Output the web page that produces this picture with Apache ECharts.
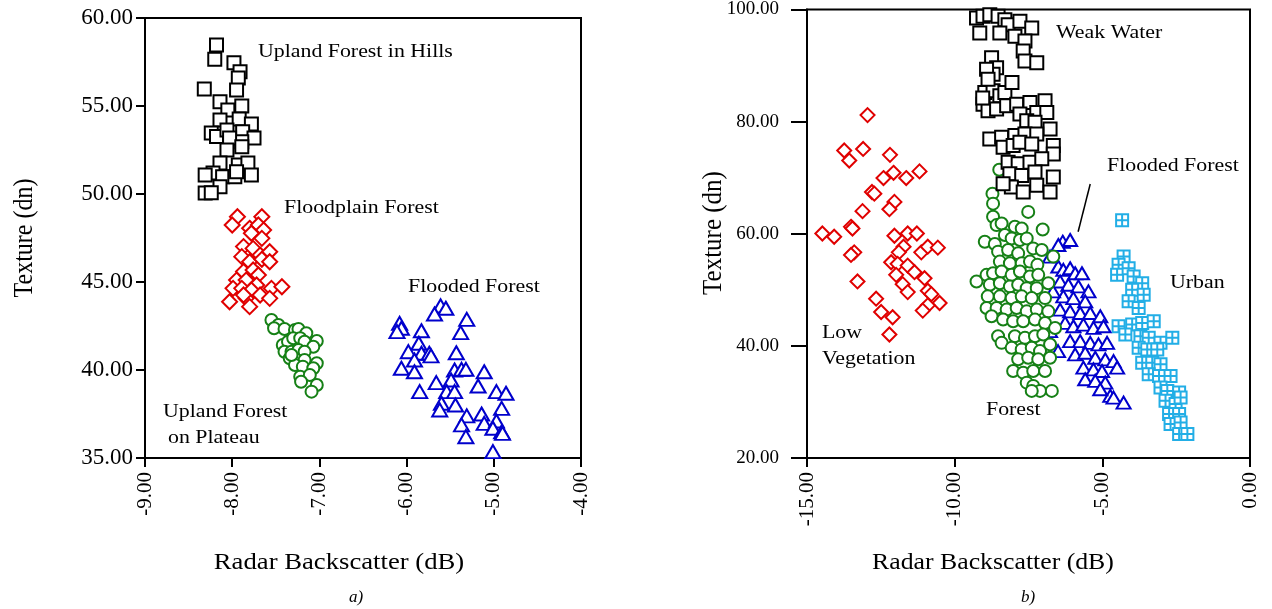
<!DOCTYPE html>
<html><head><meta charset="utf-8">
<script src="https://cdn.jsdelivr.net/npm/echarts@6/dist/echarts.min.js"></script>
<style>html,body{margin:0;padding:0;background:#fff}#c{width:1272px;height:609px}</style>
</head><body><div id="c"></div>
<script>
// ---------- Panel a) ----------
const aXTicks = [-9, -8, -7, -6, -5, -4];
const aYTicks = [35, 40, 45, 50, 55, 60];
const aUplandHills = [[-8.18,58.47],[-8.20,57.65],[-7.98,57.46],[-7.91,56.95],[-7.93,56.59],[-8.32,55.97],[-7.95,55.91],[-8.14,55.24],[-7.89,55.0],[-8.05,54.77],[-8.14,54.20],[-7.92,54.26],[-7.78,53.98],[-8.24,53.47],[-8.18,53.26],[-8.06,53.64],[-7.88,53.54],[-7.75,53.18],[-7.89,52.97],[-8.03,53.18],[-7.89,52.69],[-8.06,52.5],[-8.14,51.76],[-8.22,51.19],[-7.93,51.65],[-7.82,51.76],[-8.31,51.08],[-8.11,50.98],[-7.97,50.98],[-7.78,51.08],[-8.14,50.41],[-8.31,50.06],[-8.24,50.07],[-7.95,51.27]];
const aFloodplain = [[-7.94,48.71],[-7.66,48.71],[-8.00,48.24],[-7.80,48.05],[-7.70,48.24],[-7.64,47.95],[-7.78,47.77],[-7.66,47.48],[-7.87,47.01],[-7.76,46.91],[-7.89,46.44],[-7.68,46.53],[-7.57,46.72],[-7.80,46.15],[-7.66,46.29],[-7.57,46.15],[-7.87,45.59],[-7.76,45.68],[-7.70,45.40],[-7.95,45.11],[-7.84,45.11],[-7.72,44.83],[-7.99,44.64],[-7.89,44.64],[-7.78,44.55],[-7.55,44.64],[-7.43,44.73],[-7.68,44.26],[-7.57,44.07],[-8.03,43.88],[-7.84,44.07],[-7.80,43.60],[-7.87,44.26]];
const aUplandPlateau = [[-7.55,42.84],[-7.47,42.56],[-7.52,42.37],[-7.40,42.33],[-7.28,42.27],[-7.24,42.33],[-7.15,42.09],[-7.42,41.42],[-7.36,41.61],[-7.30,41.80],[-7.22,41.80],[-7.17,41.61],[-7.03,41.65],[-7.07,41.32],[-7.40,41.04],[-7.32,41.04],[-7.24,41.14],[-7.17,41.04],[-7.34,40.67],[-7.26,40.57],[-7.17,40.57],[-7.03,40.38],[-7.28,40.28],[-7.19,40.19],[-7.07,40.10],[-7.22,39.62],[-7.11,39.72],[-7.21,39.33],[-7.03,39.15],[-7.09,38.77],[-7.32,40.85]];
const aFlooded = [[-5.61,43.64],[-5.55,43.51],[-5.68,43.18],[-5.31,42.88],[-6.08,42.65],[-6.06,42.37],[-6.11,42.18],[-5.83,42.23],[-5.38,42.12],[-5.86,41.52],[-5.98,41.04],[-5.83,40.95],[-5.74,40.95],[-5.72,40.80],[-5.43,40.98],[-5.91,40.57],[-6.06,40.10],[-5.91,39.90],[-5.45,40.0],[-5.37,40.04],[-5.32,40.04],[-5.11,39.90],[-5.66,39.28],[-5.49,39.43],[-5.18,39.09],[-5.85,38.77],[-5.54,38.77],[-5.45,38.77],[-4.97,38.77],[-4.86,38.68],[-5.60,38.11],[-5.44,38.01],[-4.91,37.82],[-5.62,37.73],[-5.31,37.39],[-5.14,37.50],[-5.37,36.88],[-5.11,36.97],[-4.97,37.10],[-5.32,36.21],[-5.01,36.69],[-4.91,36.49],[-4.90,36.40],[-5.01,35.36]];

// ---------- Panel b) ----------
const bXTicks = [-15, -10, -5, 0];
const bYTicks = [20, 40, 60, 80, 100];
const bWeakWater = [[-9.26,98.49],[-9.04,98.79],[-8.81,99.08],[-8.53,98.79],[-8.30,98.19],[-8.19,97.30],[-7.79,97.91],[-7.39,96.72],[-9.15,95.83],[-8.47,95.83],[-7.96,95.25],[-7.62,94.36],[-8.75,91.40],[-8.58,89.62],[-7.68,92.59],[-7.62,90.81],[-7.22,90.51],[-8.70,88.43],[-8.98,85.19],[-8.70,85.49],[-8.47,84.60],[-8.30,85.19],[-9.04,83.11],[-8.87,81.94],[-8.58,82.23],[-8.24,82.83],[-7.90,83.11],[-7.45,83.41],[-6.94,83.72],[-7.79,81.34],[-7.22,81.64],[-6.88,81.64],[-7.56,80.17],[-7.28,79.87],[-6.77,78.68],[-8.81,76.90],[-8.41,77.21],[-7.96,77.51],[-7.62,77.79],[-7.22,77.79],[-8.36,75.43],[-8.02,75.73],[-7.79,76.32],[-7.39,76.02],[-6.66,75.73],[-6.66,74.24],[-8.19,72.77],[-7.85,72.47],[-7.45,72.77],[-7.05,73.36],[-8.13,70.70],[-7.73,70.41],[-7.28,71.0],[-6.66,70.11],[-8.08,68.34],[-7.68,67.45],[-7.22,68.64],[-6.77,67.45],[-8.36,68.92],[-8.92,89.32],[-8.87,87.55],[-8.06,86.96],[-9.05,84.2]];
const bLowVeg = [[-12.95,81.16],[-13.74,74.85],[-13.10,75.13],[-13.57,73.07],[-12.19,74.07],[-12.41,69.93],[-12.07,70.87],[-11.64,69.93],[-11.19,71.12],[-12.80,67.45],[-12.72,67.15],[-12.04,65.68],[-12.21,64.38],[-13.12,64.03],[-13.51,61.24],[-13.46,60.94],[-14.48,60.05],[-14.08,59.47],[-12.04,59.64],[-11.59,60.05],[-11.28,60.05],[-11.73,57.69],[-11.89,56.68],[-11.13,56.68],[-10.91,57.69],[-10.57,57.52],[-13.40,56.68],[-13.51,56.22],[-12.15,54.91],[-11.93,54.63],[-11.59,54.32],[-11.36,53.14],[-11.98,52.67],[-11.02,52.07],[-11.76,51.01],[-11.59,49.59],[-13.29,51.49],[-10.91,49.84],[-10.79,49.23],[-10.51,47.64],[-10.91,47.23],[-11.08,46.29],[-12.66,48.42],[-12.49,46.04],[-12.10,45.10],[-12.21,42.03]];
const bForest = [[-8.49,71.41],[-8.72,67.15],[-8.70,65.37],[-7.51,63.90],[-8.70,63.02],[-8.58,61.54],[-8.41,61.83],[-7.96,61.24],[-7.73,60.94],[-7.02,60.76],[-8.98,58.58],[-8.64,58.17],[-8.30,59.77],[-8.07,59.17],[-7.79,58.88],[-7.56,59.17],[-7.34,57.39],[-7.05,57.11],[-6.66,55.92],[-8.53,56.81],[-8.19,57.11],[-7.85,56.50],[-8.47,55.03],[-8.13,54.73],[-7.73,54.73],[-7.45,55.03],[-7.20,54.45],[-9.26,51.49],[-8.92,52.67],[-8.70,52.96],[-8.41,53.26],[-8.07,52.67],[-7.79,53.26],[-7.45,52.37],[-7.17,52.67],[-8.81,50.90],[-8.47,51.18],[-8.13,50.60],[-7.85,50.90],[-7.56,50.30],[-7.22,50.30],[-6.83,51.18],[-8.88,48.83],[-8.47,48.83],[-8.07,48.52],[-7.73,48.83],[-7.39,48.52],[-6.94,48.52],[-8.92,46.75],[-8.58,46.75],[-8.24,46.47],[-7.90,46.75],[-7.56,46.16],[-7.22,46.47],[-6.83,46.16],[-8.75,45.28],[-8.36,44.69],[-8.02,44.39],[-7.68,44.39],[-7.28,44.69],[-6.94,44.09],[-6.60,43.20],[-8.53,41.73],[-8.41,40.54],[-7.96,41.73],[-7.62,41.43],[-7.28,41.73],[-7.00,42.03],[-6.77,40.26],[-8.07,39.65],[-7.73,39.37],[-7.39,39.65],[-7.11,39.07],[-7.85,37.60],[-7.51,37.88],[-7.17,37.60],[-6.77,37.88],[-8.02,35.52],[-7.68,35.22],[-7.34,35.52],[-6.94,35.52],[-7.56,33.44],[-7.34,32.86],[-7.11,31.97],[-6.71,31.97],[-7.39,31.97]];
const bFlooded = [[-6.34,58.58],[-6.09,58.88],[-6.49,58.00],[-6.49,54.15],[-6.32,53.56],[-6.09,53.84],[-5.92,52.96],[-5.69,52.96],[-6.43,51.49],[-6.15,50.90],[-5.81,50.60],[-5.47,49.71],[-6.32,48.82],[-5.98,48.52],[-5.58,47.94],[-6.43,46.47],[-6.09,46.16],[-5.75,45.86],[-5.41,45.86],[-5.07,45.28],[-6.26,44.09],[-5.98,43.50],[-5.64,43.80],[-5.30,43.20],[-4.96,43.50],[-6.09,40.84],[-5.75,40.84],[-5.41,40.54],[-5.13,40.26],[-4.84,40.54],[-5.92,38.48],[-5.58,38.77],[-5.24,37.88],[-4.90,37.60],[-4.62,37.29],[-5.64,36.11],[-5.30,35.82],[-5.01,35.52],[-4.50,36.11],[-5.58,34.05],[-5.24,33.75],[-4.90,33.45],[-4.73,31.09],[-4.62,30.78],[-4.28,29.89],[-5.07,32.27],[-6.77,55.92],[-6.67,49.71],[-6.77,42.62],[-6.50,39.07]];
const bUrban = [[-4.33,62.43],[-4.28,55.92],[-4.45,54.45],[-4.50,52.67],[-4.11,53.84],[-3.94,52.37],[-3.65,51.18],[-3.99,50.01],[-3.60,49.13],[-4.11,47.94],[-3.77,46.75],[-4.45,43.50],[-3.99,43.80],[-3.65,44.09],[-3.26,44.39],[-4.22,42.03],[-3.71,41.73],[-3.43,41.43],[-3.03,40.54],[-2.63,41.43],[-3.77,39.65],[-3.48,39.37],[-3.14,39.37],[-3.65,36.99],[-3.31,36.99],[-3.03,36.71],[-3.43,34.94],[-3.08,34.63],[-2.69,34.63],[-3.03,32.56],[-2.80,31.97],[-2.40,31.67],[-2.86,30.20],[-2.52,29.61],[-2.35,30.78],[-2.74,27.84],[-2.40,27.84],[-2.69,26.07],[-2.35,26.35],[-2.40,24.29],[-2.12,24.29]];
const bPointerLine = [[-5.41,68.87],[-5.82,60.36]];

const FONT = 'Liberation Serif';
const C = {black:'#000000', red:'#e00000', green:'#168016', blue:'#0000cc', cyan:'#22aee6'};

function xAx(gi, min, max, interval, size) {
  return {gridIndex: gi, type:'value', min, max, interval,
    axisLine:{onZero:false, lineStyle:{color:'#000', width:2}},
    axisTick:{length:9, lineStyle:{color:'#000', width:2}},
    axisLabel:{rotate:90, margin:14, color:'#000', fontFamily:FONT, fontSize:size, formatter:v=>v.toFixed(2)},
    splitLine:{show:false}};
}
function yAx(gi, min, max, interval, size, margin, tick) {
  return {gridIndex: gi, type:'value', min, max, interval,
    axisLine:{onZero:false, lineStyle:{color:'#000', width:2}},
    axisTick:{length:tick, lineStyle:{color:'#000', width:2}},
    axisLabel:{margin:margin, color:'#000', fontFamily:FONT, fontSize:size, formatter:v=>v.toFixed(2)},
    splitLine:{show:false}};
}
function sc(name, gi, data, symbol, size, color, z) {
  return {name, type:'scatter', xAxisIndex:gi, yAxisIndex:gi, data, symbol, symbolSize:size, z,
    itemStyle:{color:'#fff', borderColor:color, borderWidth:2, opacity:1}, emphasis:{disabled:true}};
}
const GRID_SQ = 'path://M0,0L10,0L10,10L0,10Z M5,0L5,10 M0,5L10,5';

function txt(x, y, text, size, opts) {
  opts = opts || {};
  return {type:'text', x, y, scaleX: opts.sx || 1.15, z:100,
    style:{text, fill:'#000', font:(opts.italic?'italic ':'') + size + 'px "' + FONT + '"',
      textAlign: opts.align || 'left', textVerticalAlign:'middle'}};
}

const chart = echarts.init(document.getElementById('c'), null, {renderer:'canvas'});
chart.setOption({
  animation:false,
  backgroundColor:'#fff',
  grid:[
    {left:145, top:18, width:436, height:440, show:true, borderColor:'#000', borderWidth:2, backgroundColor:'transparent'},
    {left:807, top:7, width:443, height:451, show:true, borderColor:'#000', borderWidth:2, backgroundColor:'transparent'}
  ],
  xAxis:[ xAx(0, aXTicks[0], aXTicks[aXTicks.length-1], 1, 21), xAx(1, bXTicks[0], bXTicks[bXTicks.length-1], 5, 21) ],
  yAxis:[ yAx(0, aYTicks[0], aYTicks[aYTicks.length-1], 5, 23, 12, 9), yAx(1, bYTicks[0], bYTicks[bYTicks.length-1], 20, 19, 28, 16) ],
  series:[
    sc('Upland Forest in Hills', 0, aUplandHills, 'rect', 13, C.black, 5),
    sc('Floodplain Forest', 0, aFloodplain, 'diamond', 15, C.red, 4),
    sc('Upland Forest on Plateau', 0, aUplandPlateau, 'circle', 12, C.green, 3),
    sc('Flooded Forest', 0, aFlooded, 'triangle', [15,13], C.blue, 3),
    sc('Low Vegetation', 1, bLowVeg, 'diamond', 14, C.red, 2),
    sc('Urban', 1, bUrban, GRID_SQ, 12, C.cyan, 2),
    sc('Flooded Forest b', 1, bFlooded, 'triangle', [14,12], C.blue, 3),
    sc('Forest', 1, bForest, 'circle', 12, C.green, 4),
    sc('Weak Water', 1, bWeakWater, 'rect', 13, C.black, 5),
    {type:'line', xAxisIndex:1, yAxisIndex:1, data:bPointerLine, symbol:'none', silent:true, z:6,
      lineStyle:{color:'#000', width:1.5}}
  ],
  graphic:[
    txt(258, 52, 'Upland Forest in Hills', 19),
    txt(284, 208, 'Floodplain Forest', 19),
    txt(408, 287, 'Flooded Forest', 19),
    txt(163, 412, 'Upland Forest', 19),
    txt(168, 438, 'on Plateau', 19),
    txt(1056, 33, 'Weak Water', 19),
    txt(1107, 166, 'Flooded Forest', 19),
    txt(1170, 283, 'Urban', 19),
    txt(822, 333, 'Low', 19),
    txt(822, 359, 'Vegetation', 19),
    txt(986, 410, 'Forest', 19),
    txt(339, 563, 'Radar Backscatter (dB)', 23, {align:'center', sx:1.16}),
    txt(993, 563, 'Radar Backscatter (dB)', 23, {align:'center', sx:1.12}),
    txt(356, 598, 'a)', 17, {align:'center', italic:true, sx:1}),
    txt(1028, 598, 'b)', 17, {align:'center', italic:true, sx:1}),
    {type:'text', x:25, y:238, rotation:Math.PI/2, scaleY:1.15, z:100, style:{text:'Texture (dn)', fill:'#000', font:'24px "' + FONT + '"', textAlign:'center', textVerticalAlign:'middle'}},
    {type:'text', x:714, y:233, rotation:Math.PI/2, scaleY:1.12, z:100, style:{text:'Texture (dn)', fill:'#000', font:'25px "' + FONT + '"', textAlign:'center', textVerticalAlign:'middle'}}
  ]
});
</script></body></html>
